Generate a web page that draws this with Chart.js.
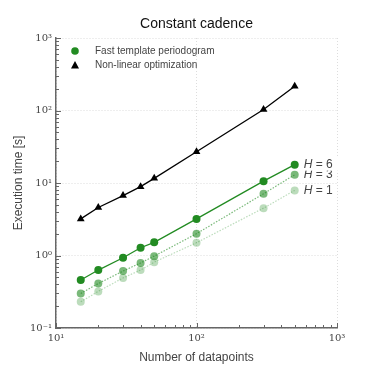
<!DOCTYPE html>
<html>
<head>
<meta charset="utf-8">
<script src="https://cdn.jsdelivr.net/npm/chart.js@4/dist/chart.umd.min.js"></script>
<style>
  html, body { margin: 0; padding: 0; background: #fff; }
  #wrap { width: 374px; height: 374px; }
</style>
</head>
<body>
<div id="wrap"><canvas id="chart"></canvas></div>
<script>
// number of datapoints and execution times [s]
const nPoints = [15, 20, 30, 40, 50, 100, 300, 500];
const nonlinearTimes = [3.2, 4.6, 6.7, 8.9, 11.6, 27, 103, 216];
const fastH6 = [0.46, 0.63, 0.93, 1.28, 1.52, 3.2, 10.6, 17.9];
const fastH3 = [0.30, 0.41, 0.61, 0.79, 0.98, 2.0, 7.1, 13.0];
const fastH1 = [0.23, 0.32, 0.49, 0.63, 0.81, 1.5, 4.5, 7.9];
const harmonicLabels = ['H = 6', 'H = 3', 'H = 1'];
const xTickValues = [10, 100, 1000];
const yTickValues = [0.1, 1, 10, 100, 1000];
const tickText = { 0.1: '10⁻¹', 1: '10⁰', 10: '10¹', 100: '10²', 1000: '10³' };

const green = '#228b22';
const textGray = '#444';

function pts(ys) {
    return nPoints.map((x, i) => ({ x: x, y: ys[i] }));
}

// inward minor/major ticks, legend, title and H labels
const decorPlugin = {
    id: 'decor',
    afterDraw(chart) {
        const ctx = chart.ctx;
        const xs = chart.scales.x, ys = chart.scales.y;
        const area = chart.chartArea;
        ctx.save();
        ctx.strokeStyle = '#666';
        ctx.lineWidth = 1;
        for (let d = 10; d < 1000; d *= 10) {
            for (let m = 1; m <= 10; m++) {
                const v = d * m;
                const px = Math.round(xs.getPixelForValue(v)) + 0.5;
                const len = (m === 1 || m === 10) ? 5 : 3;
                ctx.beginPath(); ctx.moveTo(px, area.bottom); ctx.lineTo(px, area.bottom - len); ctx.stroke();
            }
        }
        for (let d = 0.1; d < 1000; d *= 10) {
            for (let m = 1; m <= 10; m++) {
                const v = d * m;
                const py = Math.round(ys.getPixelForValue(v)) + 0.5;
                const len = (m === 1 || m === 10) ? 5 : 3;
                ctx.beginPath(); ctx.moveTo(area.left, py); ctx.lineTo(area.left + len, py); ctx.stroke();
            }
        }

        // title
        ctx.fillStyle = '#111';
        ctx.font = '14px "Liberation Sans", sans-serif';
        ctx.textAlign = 'center';
        ctx.textBaseline = 'middle';
        ctx.fillText('Constant cadence', (area.left + area.right) / 2, 24);

        // legend
        ctx.textAlign = 'left';
        ctx.font = '10px "Liberation Sans", sans-serif';
        ctx.fillStyle = green;
        ctx.beginPath(); ctx.arc(75, 51, 3.8, 0, Math.PI * 2); ctx.fill();
        ctx.fillStyle = '#000';
        ctx.beginPath(); ctx.moveTo(75, 61); ctx.lineTo(79, 68.5); ctx.lineTo(71, 68.5); ctx.closePath(); ctx.fill();
        ctx.fillStyle = textGray;
        ctx.fillText('Fast template periodogram', 95, 51);
        ctx.fillText('Non-linear optimization', 95, 65);

        // H labels next to the last point of each fast series
        const order = [2, 1, 0];
        order.forEach(k => {
            const ds = chart.data.datasets[k + 1];
            const last = ds.data[ds.data.length - 1];
            const px = xs.getPixelForValue(last.x) + 9;
            const py = ys.getPixelForValue(last.y);
            ctx.font = '12px "Liberation Sans", sans-serif';
            if (k === 0) {
                ctx.fillStyle = '#fff';
                ctx.fillRect(px - 1, py - 7, 36, 13);
            }
            ctx.fillStyle = textGray;
            const parts = harmonicLabels[k].split(' ');
            ctx.font = 'italic 12px "Liberation Sans", sans-serif';
            ctx.fillText(parts[0], px, py);
            let w = ctx.measureText(parts[0]).width;
            ctx.font = '12px "Liberation Sans", sans-serif';
            ctx.fillText(' ' + parts.slice(1).join(' '), px + w, py);
        });
        ctx.restore();
    }
};

const ctx = document.getElementById('chart').getContext('2d');
new Chart(ctx, {
    type: 'line',
    data: {
        datasets: [
            {
                label: 'Non-linear optimization',
                data: pts(nonlinearTimes),
                borderColor: '#000',
                backgroundColor: '#000',
                borderWidth: 1.3,
                pointStyle: 'triangle',
                pointRadius: 4.5,
                pointBorderWidth: 0
            },
            {
                label: harmonicLabels[0],
                data: pts(fastH6),
                borderColor: green,
                backgroundColor: green,
                borderWidth: 1.3,
                pointRadius: 4,
                pointBorderWidth: 0
            },
            {
                label: harmonicLabels[1],
                data: pts(fastH3),
                borderColor: 'rgba(34,139,34,0.6)',
                backgroundColor: 'rgba(34,139,34,0.6)',
                borderWidth: 1.2,
                borderDash: [1.5, 1.5],
                pointRadius: 4,
                pointBorderWidth: 0
            },
            {
                label: harmonicLabels[2],
                data: pts(fastH1),
                borderColor: 'rgba(34,139,34,0.3)',
                backgroundColor: 'rgba(34,139,34,0.3)',
                borderWidth: 1.2,
                borderDash: [1.5, 1.5],
                pointRadius: 4,
                pointBorderWidth: 0
            }
        ]
    },
    options: {
        responsive: true,
        maintainAspectRatio: false,
        animation: false,
        layout: { padding: { left: 0, right: 37, top: 38, bottom: 0 } },
        plugins: {
            legend: { display: false },
            title: { display: false },
            tooltip: { enabled: false }
        },
        scales: {
            x: {
                type: 'logarithmic',
                min: 10,
                max: 1000,
                afterFit: s => { s.height = 46; },
                afterBuildTicks: s => { s.ticks = xTickValues.map(v => ({ value: v })); },
                ticks: {
                    autoSkip: false,
                    maxRotation: 0,
                    padding: 4,
                    color: textGray,
                    font: { family: '"DejaVu Serif", serif', size: 10 },
                    callback: v => tickText[v] || ''
                },
                grid: { color: '#ddd', drawTicks: false },
                border: { color: '#666', width: 1.5, dash: [1, 2] },
                title: {
                    display: true,
                    text: 'Number of datapoints',
                    color: textGray,
                    font: { family: '"Liberation Sans", sans-serif', size: 12 },
                    padding: { top: 0, bottom: 9 }
                }
            },
            y: {
                type: 'logarithmic',
                min: 0.1,
                max: 1000,
                afterFit: s => { s.width = 56; },
                afterBuildTicks: s => { s.ticks = yTickValues.map(v => ({ value: v })); },
                ticks: {
                    autoSkip: false,
                    padding: 4,
                    color: textGray,
                    font: { family: '"DejaVu Serif", serif', size: 10 },
                    callback: v => tickText[v] || ''
                },
                grid: { color: '#ddd', drawTicks: false },
                border: { color: '#666', width: 1.5, dash: [1, 2] },
                title: {
                    display: true,
                    text: 'Execution time [s]',
                    color: textGray,
                    font: { family: '"Liberation Sans", sans-serif', size: 12 },
                    padding: { top: 11, bottom: 0 }
                }
            }
        }
    },
    plugins: [decorPlugin]
});
</script>
</body>
</html>
